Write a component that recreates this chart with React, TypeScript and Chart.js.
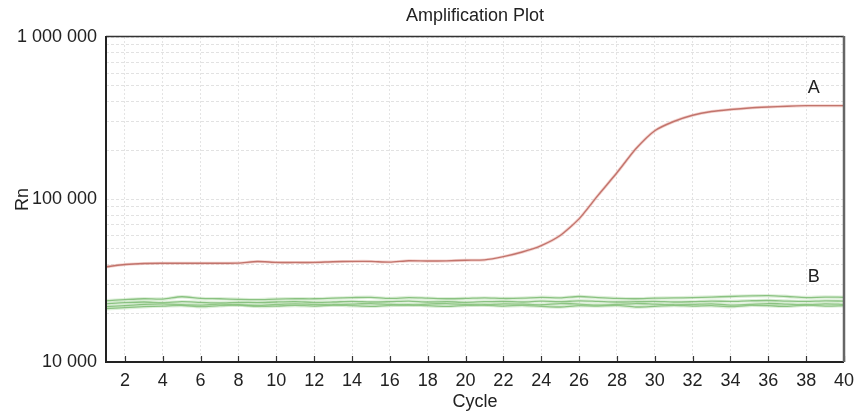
import React, { useEffect, useRef } from 'react';
import { Chart, registerables } from 'chart.js';

Chart.register(...registerables);

const FONT = '"Liberation Sans", Arial, sans-serif';

const chartTitle = 'Amplification Plot';

const cycles = [1, 2, 3, 4, 5, 6, 7, 8, 9, 10, 11, 12, 13, 14, 15, 16, 17, 18, 19, 20,
  21, 22, 23, 24, 25, 26, 27, 28, 29, 30, 31, 32, 33, 34, 35, 36, 37, 38, 39, 40];

const xTickValues = [2, 4, 6, 8, 10, 12, 14, 16, 18, 20, 22, 24, 26, 28, 30, 32, 34, 36, 38, 40];
const yTickValues = [10000, 20000, 30000, 40000, 50000, 60000, 70000, 80000, 90000,
  100000, 200000, 300000, 400000, 500000, 600000, 700000, 800000, 900000, 1000000];
const yLabelledValues = [10000, 100000, 1000000];

const seriesA = [38500, 39800, 40400, 40500, 40500, 40500, 40500, 40600, 41500, 41000,
  41000, 41000, 41400, 41600, 41600, 41200, 42000, 41800, 41900, 42300,
  42500, 44500, 47500, 52000, 60000, 76000, 106000, 146000, 205000, 265000,
  302000, 330000, 348000, 358000, 366000, 371000, 375000, 378000, 378000, 378000];

const seriesB1 = [23800, 24200, 24500, 24400, 25200, 24600, 24500, 24300, 24200, 24400,
  24500, 24500, 24700, 24900, 25000, 24600, 24900, 24700, 24500, 24600,
  24800, 24600, 24700, 25000, 24800, 25300, 24900, 24600, 24500, 24700,
  24800, 24900, 25100, 25300, 25500, 25600, 25300, 24900, 25100, 25000];
const seriesB2 = [22800, 23200, 23400, 23200, 23500, 23300, 23100, 23300, 23200, 23400,
  23500, 23300, 23400, 23600, 23400, 23500, 23700, 23400, 23500, 23300,
  23500, 23600, 23400, 23700, 23500, 23800, 23600, 23400, 23500, 23600,
  23400, 23500, 23700, 23600, 23800, 23900, 23700, 23600, 23800, 23700];
const seriesB3 = [21900, 22200, 22600, 22800, 22500, 22400, 22700, 22500, 22300, 22600,
  22800, 22600, 22500, 22700, 22900, 22600, 22400, 22700, 22900, 22600,
  22500, 22800, 22700, 22500, 22900, 22700, 22400, 22600, 22900, 22700,
  22500, 22600, 22800, 22400, 22600, 22900, 22700, 22500, 22800, 22600];
const seriesB4 = [21300, 21600, 21900, 22100, 22300, 21900, 22200, 22400, 22000, 22100,
  22300, 22100, 22400, 22200, 22000, 22300, 22500, 22200, 22000, 22300,
  22400, 22100, 22300, 22000, 21800, 22200, 22100, 22300, 21800, 22000,
  22300, 22100, 22200, 21900, 22300, 22200, 22000, 22400, 22100, 22200];

const curveLabels = [
  { text: 'A', x: 38.4, y: 485000 },
  { text: 'B', x: 38.4, y: 33300 },
];

const fmt = (v: number) => String(Math.round(v)).replace(/\B(?=(\d{3})+(?!\d))/g, ' ');

const toPoints = (vals: number[]) => vals.map((v, i) => ({ x: cycles[i], y: v }));

const framePlugin = {
  id: 'frameAndLabels',
  afterDatasetsDraw(chart: any) {
    const { ctx, chartArea: a, scales } = chart;
    ctx.save();
    // inward x ticks
    ctx.strokeStyle = '#333';
    ctx.lineWidth = 1.2;
    xTickValues.forEach((v) => {
      const px = Math.round(scales.x.getPixelForValue(v)) + 0.5;
      ctx.beginPath();
      ctx.moveTo(px, a.bottom);
      ctx.lineTo(px, a.bottom - 6);
      ctx.stroke();
    });
    // frame
    ctx.lineWidth = 1.5;
    ctx.strokeStyle = '#333';
    ctx.beginPath();
    ctx.moveTo(a.left, a.top - 0.5);
    ctx.lineTo(a.right, a.top - 0.5);
    ctx.stroke();
    ctx.lineWidth = 2;
    ctx.strokeStyle = '#222';
    ctx.beginPath();
    ctx.moveTo(a.left, a.top - 1);
    ctx.lineTo(a.left, a.bottom);
    ctx.lineTo(a.right, a.bottom);
    ctx.stroke();
    ctx.lineWidth = 2.5;
    ctx.strokeStyle = '#666';
    ctx.beginPath();
    ctx.moveTo(a.right, a.top - 1);
    ctx.lineTo(a.right, a.bottom);
    ctx.stroke();
    // curve labels
    ctx.fillStyle = '#222';
    ctx.font = `18px ${FONT}`;
    ctx.textAlign = 'center';
    ctx.textBaseline = 'middle';
    curveLabels.forEach((l) => {
      ctx.fillText(l.text, scales.x.getPixelForValue(l.x), scales.y.getPixelForValue(l.y));
    });
    // title centred over the plot area
    ctx.fillText(chartTitle, (a.left + a.right) / 2, 16);
    ctx.restore();
  },
};

export default function App() {
  const ref = useRef<HTMLCanvasElement | null>(null);

  useEffect(() => {
    if (!ref.current) return;
    const green = 'rgba(95,170,85,0.8)';
    const greenHalo = 'rgba(160,210,150,0.35)';
    const bSets = [seriesB1, seriesB2, seriesB3, seriesB4];
    const datasets: any[] = [];
    bSets.forEach((s) => {
      datasets.push({ data: toPoints(s), borderColor: greenHalo, borderWidth: 3.5, pointRadius: 0, tension: 0.3, fill: false });
    });
    bSets.forEach((s) => {
      datasets.push({ data: toPoints(s), borderColor: green, borderWidth: 1.3, pointRadius: 0, tension: 0.3, fill: false });
    });
    datasets.push({ data: toPoints(seriesA), borderColor: 'rgba(230,160,150,0.45)', borderWidth: 3, pointRadius: 0, tension: 0.2, fill: false });
    datasets.push({ data: toPoints(seriesA), borderColor: 'rgb(165,80,74)', borderWidth: 1.4, pointRadius: 0, tension: 0.2, fill: false });

    const chart = new Chart(ref.current, {
      type: 'line',
      data: { datasets },
      plugins: [framePlugin],
      options: {
        animation: false,
        responsive: false,
        devicePixelRatio: 1,
        layout: { padding: { left: 0, right: 11, top: 37, bottom: 0 } },
        plugins: {
          legend: { display: false },
          tooltip: { enabled: false },
          title: { display: false },
        },
        scales: {
          x: {
            type: 'linear',
            min: 1,
            max: 40,
            afterBuildTicks: (s: any) => { s.ticks = xTickValues.map((v) => ({ value: v })); },
            afterFit: (s: any) => { s.height = 52; s.paddingLeft = 0; s.paddingRight = 0; },
            grid: { color: '#e4e4e4', drawTicks: false, lineWidth: 1 },
            border: { display: false, dash: [2, 2] },
            ticks: {
              padding: 8, color: '#222', autoSkip: false, maxRotation: 0,
              font: { size: 18, family: FONT },
            },
            title: {
              display: true, text: 'Cycle', color: '#222',
              font: { size: 18, family: FONT }, padding: { top: 0, bottom: 1 },
            },
          },
          y: {
            type: 'logarithmic',
            min: 10000,
            max: 1000000,
            afterBuildTicks: (s: any) => { s.ticks = yTickValues.map((v) => ({ value: v })); },
            afterFit: (s: any) => { s.width = 106; s.paddingTop = 0; s.paddingBottom = 0; },
            grid: { color: '#e2e2e2', drawTicks: false, lineWidth: 1 },
            border: { display: false, dash: [3, 2] },
            ticks: {
              padding: 9, color: '#222', autoSkip: false,
              font: { size: 18, family: FONT },
              callback: (v: any) => (yLabelledValues.includes(Number(v)) ? fmt(Number(v)) : ''),
            },
            title: {
              display: true, text: 'Rn', color: '#222',
              font: { size: 18, family: FONT }, padding: { top: 12, bottom: 0 },
            },
          },
        },
      } as any,
    });
    return () => chart.destroy();
  }, []);

  return (
    <div style={{ position: 'fixed', left: 0, top: 0, width: 855, height: 414, background: '#fff' }}>
      <canvas ref={ref} width={855} height={414} />
    </div>
  );
}
